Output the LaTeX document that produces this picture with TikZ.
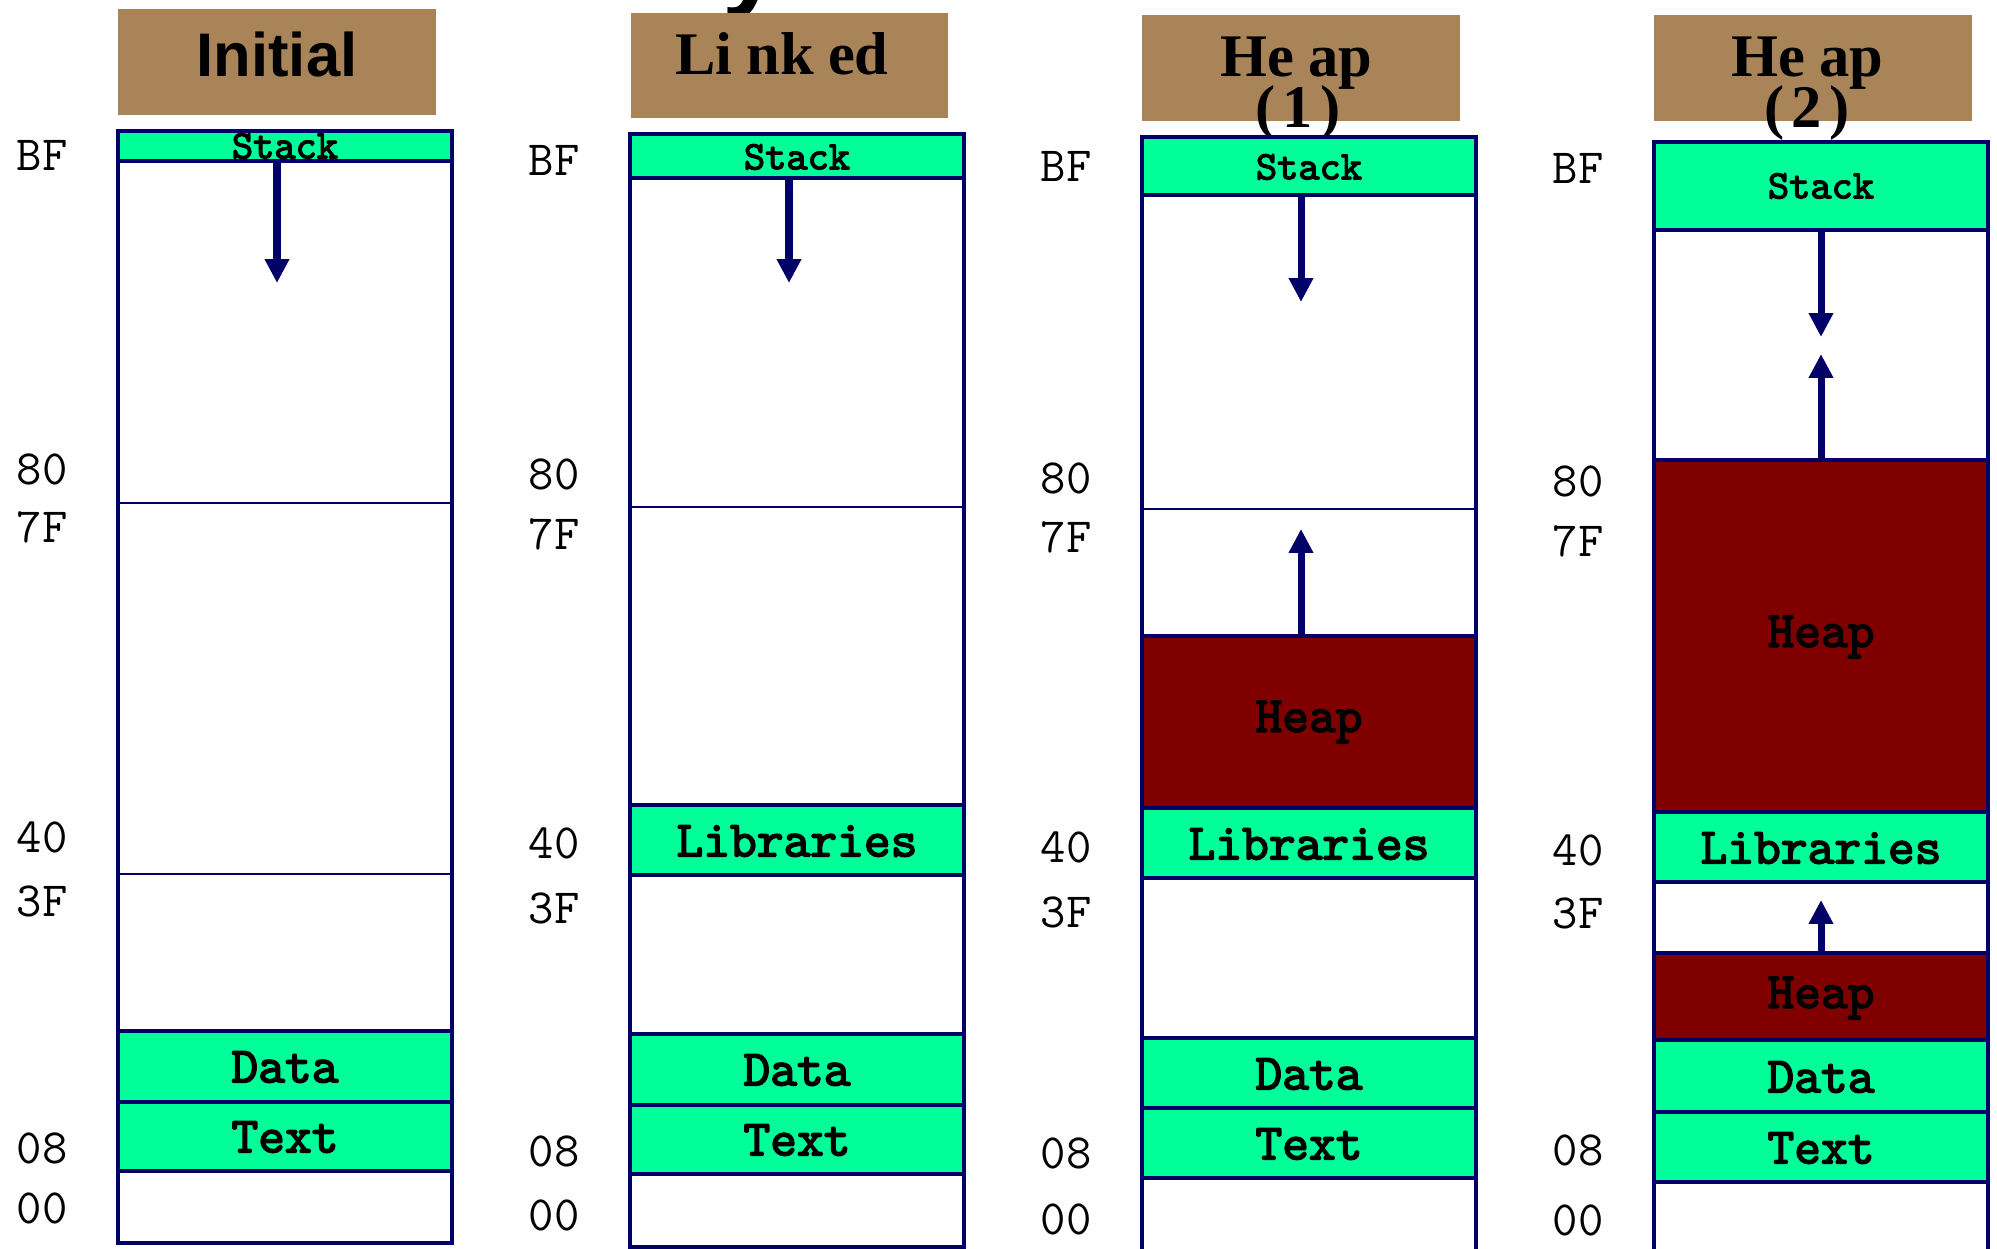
\documentclass[tikz,border=0pt]{standalone}
\usepackage{fontspec}
\setmainfont{Liberation Serif}
\setsansfont{Liberation Sans}
\newfontfamily\segfont[FakeBold=3]{lmmono10-regular.otf}
\usetikzlibrary{arrows.meta}

\definecolor{navy}{RGB}{0,0,102}
\definecolor{segGreen}{RGB}{0,255,153}
\definecolor{heapRed}{RGB}{128,0,0}
\definecolor{tagBrown}{RGB}{169,132,89}

\tikzset{
  tagbox/.style={fill=tagBrown},
  outline/.style={draw=navy, line width=1.2pt},
  segbox/.style={draw=navy, line width=1.2pt, fill=segGreen},
  heapbox/.style={draw=navy, line width=1.2pt, fill=heapRed},
  sepline/.style={draw=navy, line width=0.5pt},
  growarrow/.style={draw=navy, line width=2pt, -{Triangle[width=6.6pt,length=6.8pt]}},
  addr/.style={anchor=west, inner sep=0pt, font=\ttfamily\fontsize{14}{14}\selectfont},
  segtext/.style={inner sep=0pt, font=\segfont\fontsize{14.5}{14.5}\selectfont},
  stacktext/.style={inner sep=0pt, font=\segfont\fontsize{11.5}{11.5}\selectfont},
  headtext/.style={anchor=base, inner sep=0pt, font=\bfseries\fontsize{17.2}{17.2}\selectfont},
}

\begin{document}
\begin{tikzpicture}[x=0.01cm, y=-0.01cm]
  \useasboundingbox (0,0) rectangle (1997,1249);

  % tail of the slide title, cut off at the top edge
  \node[anchor=base west, inner sep=0pt, font=\sffamily\bfseries\fontsize{30}{30}\selectfont] (ttl) at (722,-3) {y};

  % --- initial ---
  \begin{scope}
    \fill[tagbox] (118,9) rectangle (436,115);
    \node[anchor=base, inner sep=0pt, font=\sffamily\bfseries\fontsize{17.5}{17.5}\selectfont] (h1) at (277,77) {Initial};
    \draw[outline] (118,131) rectangle (452,1243);
    \draw[segbox] (118,131) rectangle (452,161);
    \node[stacktext] (st1) at (285,146) {Stack};
    \draw[sepline] (118,503) -- (452,503);
    \draw[sepline] (118,874) -- (452,874);
    \draw[segbox] (118,1031) rectangle (452,1102);
    \node[segtext] (dt1) at (285,1067) {Data};
    \draw[segbox] (118,1102) rectangle (452,1171);
    \node[segtext] (tx1) at (285,1137) {Text};
    \draw[growarrow] (277,161) -- (277,283);
    \foreach \t/\y in {BF/155, 80/469, 7F/527, 40/837, 3F/901, 08/1148, 00/1208}
      \node[addr] (a1-\t) at (16,\y) {\t};
  \end{scope}

  % --- linked ---
  \begin{scope}[shift={(512,0)}]
    \fill[tagbox] (119,13) rectangle (436,118);
    \node[headtext] (h2) at (270,75) {Li\kern4pt nk\kern4pt ed};
    \draw[outline] (118,134) rectangle (452,1247);
    \draw[segbox] (118,134) rectangle (452,178);
    \node[stacktext] (st2) at (285,157) {Stack};
    \draw[sepline] (118,507) -- (452,507);
    \draw[segbox] (118,805) rectangle (452,875);
    \node[segtext] (lb2) at (285,841) {Libraries};
    \draw[segbox] (118,1034) rectangle (452,1105);
    \node[segtext] (dt2) at (285,1070) {Data};
    \draw[segbox] (118,1105) rectangle (452,1174);
    \node[segtext] (tx2) at (285,1140) {Text};
    \draw[growarrow] (277,178) -- (277,283);
    \foreach \t/\y in {BF/160, 80/474, 7F/534, 40/843, 3F/908, 08/1151, 00/1215}
      \node[addr] (a2-\t) at (16,\y) {\t};
  \end{scope}

  % --- heap (1) ---
  \begin{scope}[shift={(1024,0)}]
    \fill[tagbox] (118,15) rectangle (436,121);
    \node[headtext] (h3) at (272,77) {He\kern4pt ap};
    \node[headtext] (h3b) at (274,128) {(\kern2pt1\kern2pt)};
    \draw[outline] (118,137) rectangle (452,1251);
    \draw[segbox] (118,137) rectangle (452,195);
    \node[stacktext] (st3) at (285,167) {Stack};
    \draw[sepline] (118,509) -- (452,509);
    \draw[heapbox] (118,636) rectangle (452,808);
    \node[segtext] (hp3) at (285,722) {Heap};
    \draw[segbox] (118,808) rectangle (452,878);
    \node[segtext] (lb3) at (285,844) {Libraries};
    \draw[segbox] (118,1038) rectangle (452,1108);
    \node[segtext] (dt3) at (285,1074) {Data};
    \draw[segbox] (118,1108) rectangle (452,1178);
    \node[segtext] (tx3) at (285,1144) {Text};
    \draw[growarrow] (277,195) -- (277,302);
    \draw[growarrow] (277,636) -- (277,529);
    \foreach \t/\y in {BF/166, 80/478, 7F/537, 40/847, 3F/912, 08/1153, 00/1219}
      \node[addr] (a3-\t) at (16,\y) {\t};
  \end{scope}

  % --- heap (2) ---
  \begin{scope}[shift={(1536,0)}]
    \fill[tagbox] (118,15) rectangle (436,121);
    \node[headtext] (h4) at (271,77) {He\kern4pt ap};
    \node[headtext] (h4b) at (271,128) {(\kern2pt2\kern2pt)};
    \draw[outline] (118,142) rectangle (452,1255);
    \draw[segbox] (118,142) rectangle (452,230);
    \node[stacktext] (st4) at (285,186) {Stack};
    \draw[heapbox] (118,460) rectangle (452,812);
    \node[segtext] (hp4) at (285,637) {Heap};
    \draw[segbox] (118,812) rectangle (452,882);
    \node[segtext] (lb4) at (285,848) {Libraries};
    \draw[heapbox] (118,953) rectangle (452,1040);
    \node[segtext] (hp4b) at (285,998) {Heap};
    \draw[segbox] (118,1040) rectangle (452,1112);
    \node[segtext] (dt4) at (285,1077) {Data};
    \draw[segbox] (118,1112) rectangle (452,1182);
    \node[segtext] (tx4) at (285,1148) {Text};
    \draw[growarrow] (285,230) -- (285,337);
    \draw[growarrow] (285,460) -- (285,354);
    \draw[growarrow] (285,953) -- (285,900);
    \foreach \t/\y in {BF/168, 80/481, 7F/541, 40/850, 3F/913, 08/1150, 00/1220}
      \node[addr] (a4-\t) at (16,\y) {\t};
  \end{scope}
\end{tikzpicture}
\end{document}
